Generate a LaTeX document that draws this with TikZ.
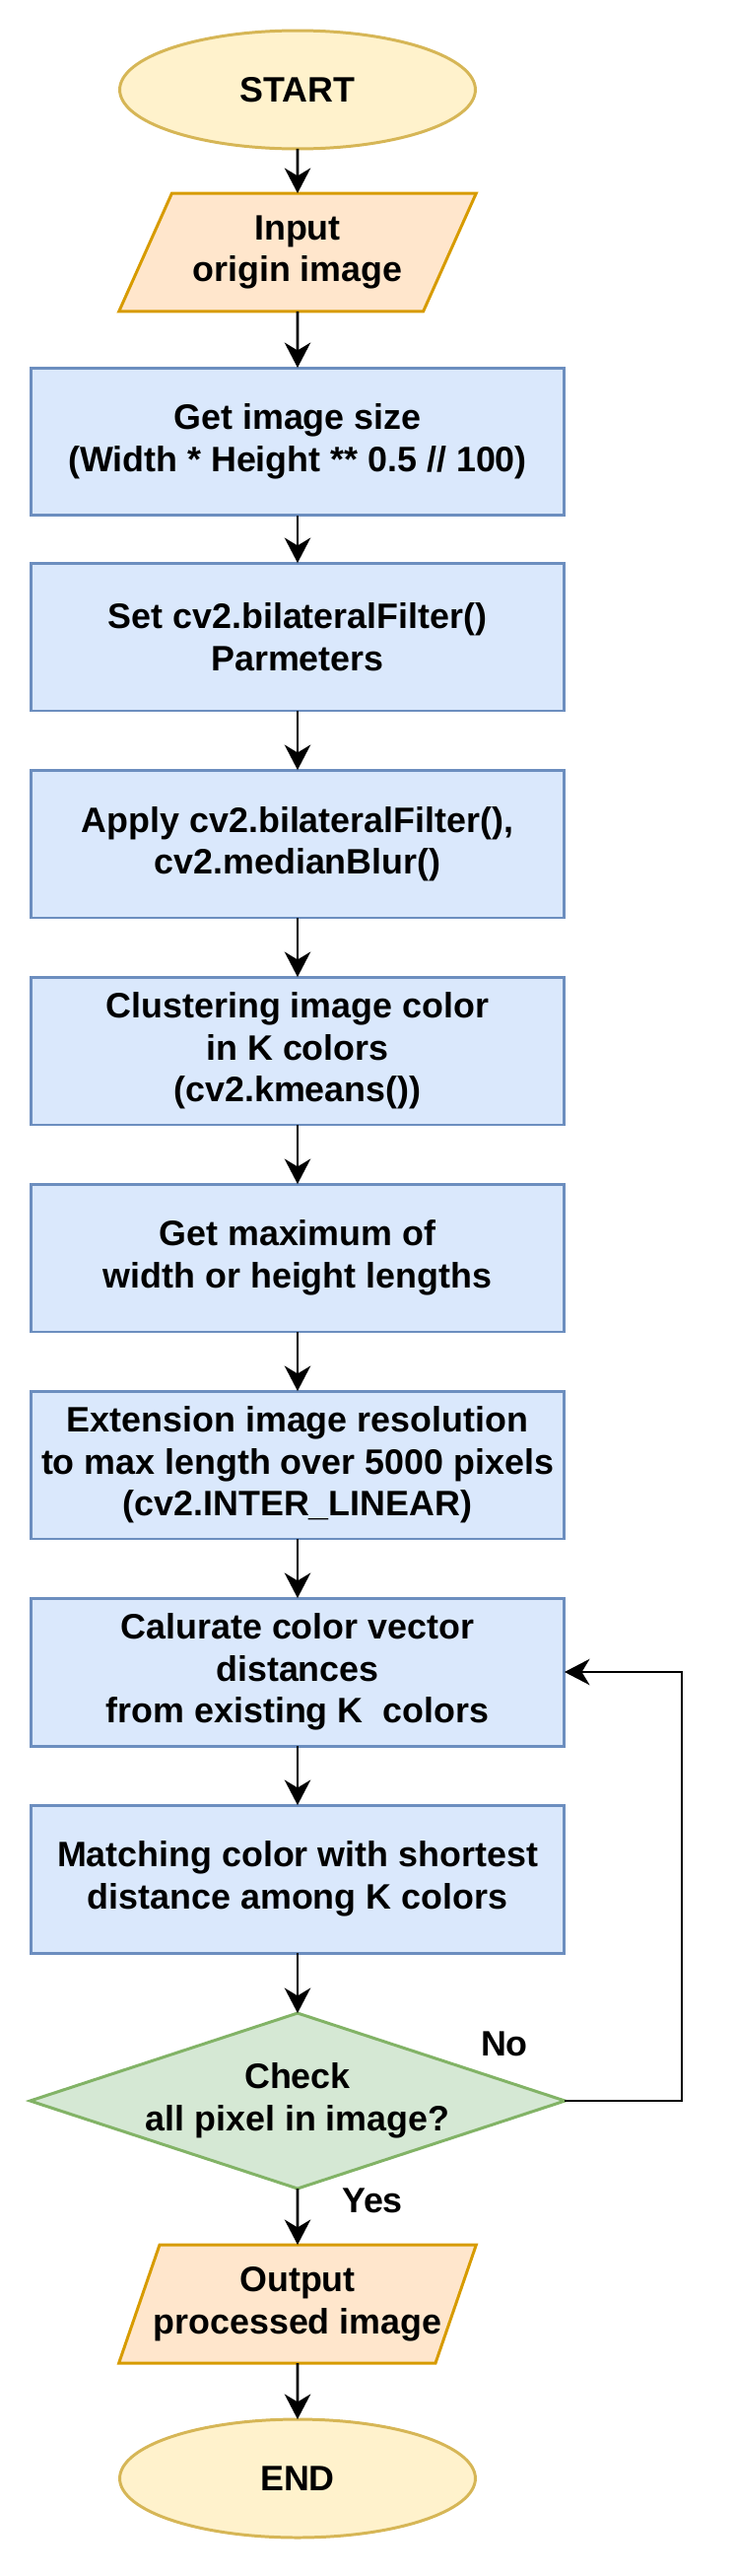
\documentclass[tikz,border=0pt]{standalone}
\usepackage{fontspec}
\setmainfont{Liberation Sans}
\usetikzlibrary{shapes.geometric,arrows.meta}

\definecolor{termfill}{HTML}{FFF2CC}
\definecolor{termline}{HTML}{D6B656}
\definecolor{iofill}{HTML}{FFE6CC}
\definecolor{ioline}{HTML}{D79B00}
\definecolor{procfill}{HTML}{DAE8FC}
\definecolor{procline}{HTML}{6C8EBF}
\definecolor{decfill}{HTML}{D5E8D4}
\definecolor{decline}{HTML}{82B366}

\begin{document}
\begin{tikzpicture}[x=0.02cm, y=-0.02cm,
  >={Stealth[length=14.5pt,width=15pt,inset=4.5pt]},
  txt/.style={font=\bfseries\fontsize{20.4}{24.2}\selectfont, align=center},
  term/.style={txt, ellipse, draw=termline, fill=termfill, line width=1.7pt,
    minimum width=7.22cm, minimum height=2.4cm, inner sep=0pt, outer sep=0pt},
  io/.style={txt, trapezium, trapezium left angle=62.7, trapezium right angle=117.3,
    trapezium stretches, draw=ioline, fill=iofill, line width=1.7pt,
    minimum width=7.26cm, minimum height=2.4cm, inner ysep=0pt, inner xsep=-0.3cm,
    outer sep=0pt},
  proc/.style={txt, rectangle, draw=procline, fill=procfill, line width=1.7pt,
    minimum width=10.84cm, minimum height=3cm, inner sep=0pt, outer sep=0pt},
  dec/.style={txt, diamond, aspect=3.05, draw=decline, fill=decfill, line width=1.7pt,
    minimum width=10.86cm, minimum height=3.56cm, inner sep=0pt, outer sep=0pt},
  flow/.style={->, line width=1.5pt}]

\useasboundingbox (0,0) rectangle (747,2613);

% Start / input
\node[term] (start) at (302,91) {START};
\node[io] (input) at (302,256) {Input\\origin image};

% Processing steps
\node[proc] (size) at (302,448) {Get image size\\(Width * Height ** 0.5 // 100)};
\node[proc] (setf) at (302,646) {Set cv2.bilateralFilter()\\Parmeters};
\node[proc] (applyf) at (302,856) {Apply cv2.bilateralFilter(),\\cv2.medianBlur()};
\node[proc] (cluster) at (302,1066) {Clustering image color\\in K colors\\(cv2.kmeans())};
\node[proc] (maxlen) at (302,1276) {Get maximum of\\width or height lengths};
\node[proc] (extend) at (302,1486) {Extension image resolution\\to max length over 5000 pixels\\(cv2.INTER\_LINEAR)};
\node[proc] (calc) at (302,1696) {Calurate color vector\\distances\\from existing K\ \ colors};
\node[proc] (match) at (302,1906) {Matching color with shortest\\distance among K colors};

% Check, output, end
\node[dec] (check) at (302,2131) {Check\\all pixel in image?};
\node[io] (output) at (302,2337) {Output\\processed image};
\node[term] (stop) at (302,2514) {END};

\node[txt] (no) at (512,2073) {No};
\node[txt] (yes) at (378,2232) {Yes};

% Arrows down
\foreach \a/\b in {start/input, input/size, size/setf, setf/applyf, applyf/cluster,
  cluster/maxlen, maxlen/extend, extend/calc, calc/match, match/check,
  check/output, output/stop} {
  \draw[flow] (\a) -- (\b);
}

% Loop back
\coordinate (back) at (692,1696);
\draw[flow] (check.east) -| (back) -- (calc.east);

\end{tikzpicture}
\end{document}
